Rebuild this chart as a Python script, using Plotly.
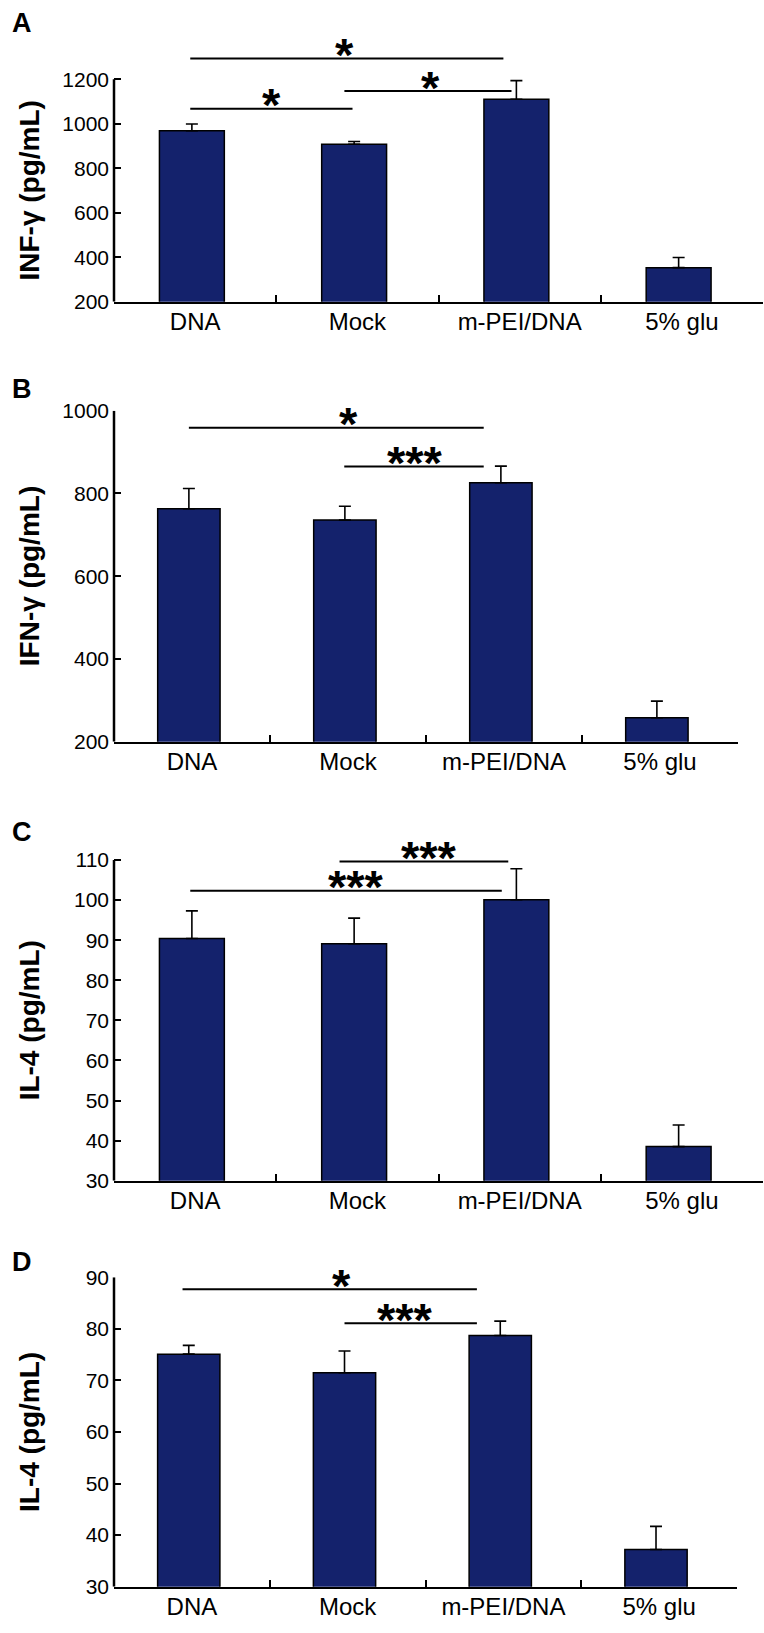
import plotly.graph_objects as go

# ---------------- data ----------------
categories = ["DNA", "Mock", "m-PEI/DNA", "5% glu"]

a_values = [969, 908, 1110, 353]
a_errors = [30, 12, 84, 46]
b_values = [763, 736, 826, 258]
b_errors = [49, 33, 40, 40]
c_values = [90.4, 89.1, 100.1, 38.5]
c_errors = [6.9, 6.4, 7.7, 5.4]
d_values = [75.1, 71.5, 78.7, 37.2]
d_errors = [1.7, 4.2, 2.8, 4.5]

a_ticks = [200, 400, 600, 800, 1000, 1200]
b_ticks = [200, 400, 600, 800, 1000]
c_ticks = [30, 40, 50, 60, 70, 80, 90, 100, 110]
d_ticks = [30, 40, 50, 60, 70, 80, 90]

# significance brackets: (from, to, level, label, label position) in category units
a_sig = [(-0.03, 1.90, 1293, "*", 0.92), (-0.03, 0.97, 1068, "*", 0.47), (0.92, 1.95, 1147, "*", 1.45)]
b_sig = [(-0.02, 1.87, 959, "*", 1.00), (0.976, 1.87, 865, "***", 1.43)]
c_sig = [(0.89, 1.93, 109.6, "***", 1.44), (-0.03, 1.89, 102.3, "***", 0.99)]
d_sig = [(-0.06, 1.83, 87.7, "*", 0.96), (0.98, 1.83, 81.1, "***", 1.37)]

panel_letters = ["A", "B", "C", "D"]
y_titles = ["INF-\u03b3 (pg/mL)", "IFN-\u03b3 (pg/mL)", "IL-4 (pg/mL)", "IL-4 (pg/mL)"]

# ---------------- layout geometry (pixels) ----------------
W, H = 764, 1633
NAVY = "#14226c"
FONT = "Arial, Liberation Sans, sans-serif"

panels = [
    dict(vals=a_values, errs=a_errors, ticks=a_ticks, sig=a_sig, ext=1330,
         px_lo=301.7, px_top=79.3, x_left=114, x_right=763, letter_y=23),
    dict(vals=b_values, errs=b_errors, ticks=b_ticks, sig=b_sig, ext=1000,
         px_lo=741.7, px_top=410.7, x_left=114, x_right=738, letter_y=389),
    dict(vals=c_values, errs=c_errors, ticks=c_ticks, sig=c_sig, ext=112,
         px_lo=1180.7, px_top=860, x_left=114, x_right=763, letter_y=832),
    dict(vals=d_values, errs=d_errors, ticks=d_ticks, sig=d_sig, ext=90,
         px_lo=1586.7, px_top=1277.3, x_left=114, x_right=737, letter_y=1262),
]

fig = go.Figure()
shapes = []
annotations = []
layout_axes = {}

for i, p in enumerate(panels):
    n = "" if i == 0 else str(i + 1)
    xname, yname = "x" + n, "y" + n
    lo, top = p["ticks"][0], p["ticks"][-1]
    scale = (p["px_lo"] - p["px_top"]) / (top - lo)
    px_ext = p["px_lo"] - (p["ext"] - lo) * scale
    ydom = [1 - p["px_lo"] / H, 1 - px_ext / H]
    xdom = [p["x_left"] / W, p["x_right"] / W]

    fig.add_trace(go.Bar(
        x=categories, y=p["vals"], width=0.4, offset=-0.22,
        marker=dict(color=NAVY, line=dict(color="black", width=1.5)),
        error_y=dict(type="data", array=p["errs"], symmetric=False,
                     arrayminus=[0] * len(p["errs"]), color="black",
                     thickness=1.6, width=6),
        xaxis=xname, yaxis=yname, showlegend=False, hoverinfo="skip",
    ))

    layout_axes["xaxis" + n] = dict(
        domain=xdom, anchor=yname, type="category", range=[-0.5, 3.5],
        automargin=False,
        showline=True, linecolor="black", linewidth=2.5,
        ticks="inside", tickson="boundaries", ticklen=7, tickwidth=2,
        tickcolor="black", showgrid=False, zeroline=False,
        tickfont=dict(family=FONT, size=24, color="black"),
        ticklabelstandoff=-3,
    )
    layout_axes["yaxis" + n] = dict(
        domain=ydom, anchor=xname, range=[lo, p["ext"]],
        automargin=False,
        showline=False, showgrid=False, zeroline=False,
        tickmode="array", tickvals=p["ticks"], ticktext=[str(t) for t in p["ticks"]],
        ticks="inside", ticklen=7, tickwidth=2, tickcolor="black",
        tickfont=dict(family=FONT, size=21, color="black"),
        ticklabelstandoff=4,
    )

    # y axis line (only up to the top tick)
    shapes.append(dict(type="line", xref=xname + " domain", yref=yname,
                       x0=0, x1=0, y0=lo, y1=top,
                       line=dict(color="black", width=2.5)))

    # significance brackets
    for (s0, s1, lvl, lab, lx) in p["sig"]:
        shapes.append(dict(type="line", xref=xname, yref=yname,
                           x0=s0, x1=s1, y0=lvl, y1=lvl,
                           line=dict(color="black", width=2)))
        annotations.append(dict(x=lx, y=lvl, xref=xname, yref=yname,
                                text="<b>" + lab + "</b>", showarrow=False,
                                xanchor="center", yanchor="middle", yshift=4,
                                font=dict(family=FONT, size=47, color="black")))

    # panel letter
    annotations.append(dict(x=10 / W, y=1 - p["letter_y"] / H, xref="paper", yref="paper",
                            text="<b>" + panel_letters[i] + "</b>", showarrow=False,
                            xanchor="left", yanchor="middle",
                            font=dict(family=FONT, size=27, color="black")))
    # y title
    annotations.append(dict(x=29 / W, y=(lo + top) / 2, xref="paper", yref=yname,
                            text="<b>" + y_titles[i] + "</b>", showarrow=False,
                            textangle=-90, xanchor="center", yanchor="middle",
                            font=dict(family=FONT, size=28, color="black")))

fig.update_layout(
    template="none",
    width=W, height=H,
    margin=dict(l=0, r=0, t=0, b=0, pad=0, autoexpand=False),
    paper_bgcolor="white", plot_bgcolor="white",
    shapes=shapes, annotations=annotations,
    showlegend=False,
    **layout_axes,
)

fig.write_html("out.html",
               config={"displayModeBar": False, "staticPlot": True},
               post_script="document.body.style.margin='0';document.body.style.padding='0';"
                           "document.body.style.overflow='hidden';")
